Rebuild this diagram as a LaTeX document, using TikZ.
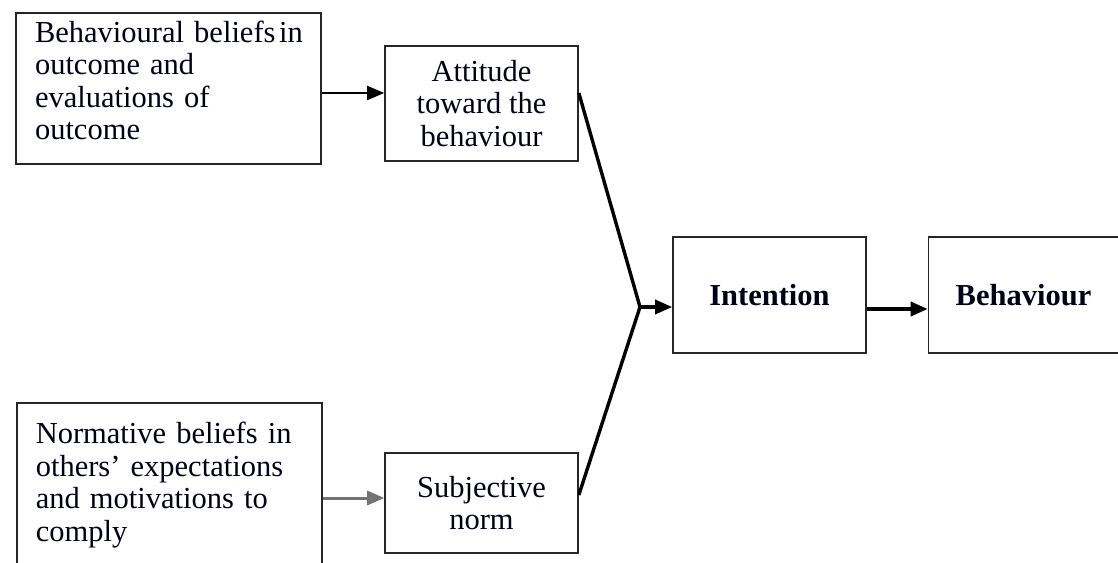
\documentclass[tikz,border=0pt]{standalone}
\usepackage{fontspec}
\setmainfont{Liberation Serif}
\usetikzlibrary{arrows.meta}
\begin{document}
\begin{tikzpicture}[x=1pt,y=-1pt,
  box/.style={draw=black!85, line width=1.6pt, inner sep=0pt,
    font=\fontsize{30.5}{32.5}\selectfont, text=black!90!blue},
  leftbox/.style={box, align=left, inner xsep=19pt, text width=267pt},
  midbox/.style={box, align=center, minimum width=193pt},
  headbox/.style={box, minimum height=116pt, font=\fontsize{30.5}{32.5}\selectfont\bfseries},
  link/.style={line width=3.4pt, black},
  feed/.style={-{Triangle[length=17pt,width=14pt]}},
]
\useasboundingbox (0,0) rectangle (1118,562);
\clip (0,0) rectangle (1118,562);
\fill[white] (0,0) rectangle (1118,562);

% belief boxes on the left
\node[leftbox, minimum height=151pt] (beh) at (168.5,88.5)
  {\mbox{Behavioural beliefs\hspace{0.12em}in}\\outcome and\\evaluations of\\outcome\\[-16pt]\mbox{}};
\node[leftbox, anchor=north west, minimum height=190pt] (norm) at (16,402)
  {Normative beliefs in\\others’ expectations\\and motivations to\\comply\\\mbox{}};

% attitude and subjective norm
\node[midbox, minimum height=115pt] (att) at (481.5,103.5)
  {Attitude\\toward the\\behaviour};
\node[midbox, minimum height=100pt] (subj) at (481.5,503)
  {Subjective\\norm};

% intention and behaviour
\node[headbox, minimum width=193pt] (int) at (769.5,295) {Intention};
\node[headbox, minimum width=190pt] (bhv) at (1023.5,295) {Behaviour};

% connectors
\coordinate (ya) at (0,93);
\coordinate (yn) at (0,498);
\coordinate (j) at (640,307);

\draw[feed, line width=1.8pt] (beh.east |- ya) -- (att.west |- ya);
\draw[feed, line width=3pt, black!55] (norm.east |- yn) -- (subj.west |- yn);
\draw[link, line join=miter] (att.east |- ya) -- (j) -- (subj.east |- 0,495);
\draw[feed, line width=3.4pt] (j) -- (int.west |- j);
\draw[feed, line width=3.6pt] ([yshift=-14pt]int.east) -- ([yshift=-14pt]bhv.west);
\end{tikzpicture}
\end{document}
